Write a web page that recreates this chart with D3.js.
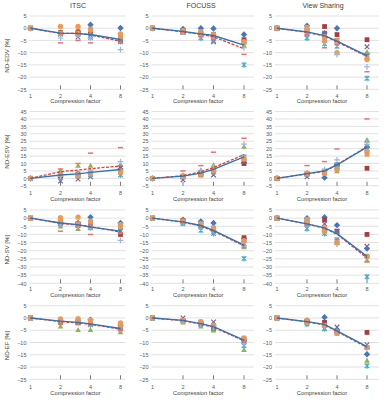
<!DOCTYPE html>
<html lang="en">
<head>
<meta charset="UTF-8">
<title>Compression factor panels</title>
<script src="https://cdn.jsdelivr.net/npm/d3@7"></script>
<style>
  body { margin: 0; background: #fff; }
  text { font-family: "Liberation Sans Narrow", "Liberation Sans", Arial, sans-serif; fill: #595959; }
</style>
</head>
<body>
<svg id="chart" width="386" height="400"></svg>
<script>
// ---- data ----
const factors = [1, 2, 3, 4, 8];
const xTicks = [1, 2, 4, 8];
const methods = ["ITSC", "FOCUSS", "View Sharing"];
const metrics = ["ND-EDV [%]", "ND-ESV [%]", "ND-SV [%]", "ND-EF [%]"];
const yDomains = [[-25, 5], [-5, 45], [-40, 5], [-25, 5]];
const seriesNames = ["S1", "S2", "S3", "S4", "S5", "S6", "S7", "S8", "S9"];

// one row per series, values at factors 1,2,3,4,8
const edvITSC = [
  [0, -1.8, -1.5, 1.4, 0.1], [0, -1.8, -1.5, -1.0, -4.7], [0, -2.3, -1.9, -2.3, -5.0],
  [0, -2.0, -3.6, -3.0, -4.5], [0, -2.5, -2.5, -3.8, -5.5], [0, 0.7, 0.7, -0.7, -2.3],
  [0, -4.0, -2.8, -4.0, -8.8], [0, -6.0, -5.0, -6.0, -6.0], [0, -2.0, -2.0, -0.3, -3.5]
];
const edvFOCUSS = [
  [0, -0.3, 0, -0.1, -2.6], [0, -1.2, -2.0, -2.5, -4.7], [0, -1.5, -1.5, -3.0, -7.0],
  [0, -1.8, -2.5, -5.5, -5.5], [0, -1.5, -4.0, -5.0, -15.0], [0, -1.0, -1.5, -2.5, -5.5],
  [0, -1.5, -3.0, -3.5, -8.0], [0, -2.0, -3.5, -4.5, -10.7], [0, -1.5, -1.6, -2.8, -6.0]
];
const edvVS = [
  [0, 1.0, -2.0, 0.0, -10.5], [0, -0.8, 0.7, -2.6, -4.7], [0, -0.7, -3.4, -4.7, -9.7],
  [0, -2.3, -2.0, -5.0, -7.6], [0, -4.0, -6.4, -7.4, -20.5], [0, -1.0, -3.5, -10.0, -12.8],
  [0, -1.5, -5.5, -10.8, -15.8], [0, -2.5, -8.0, -6.5, -17.8], [0, 0.4, -5.0, -5.0, -12.0]
];
const esvITSC = [
  [0, 1.0, 3.0, 4.0, 6.3], [0, 2.0, 2.9, 3.0, 4.5], [0, 5.2, 8.6, 8.6, 9.5],
  [0, -1.8, -0.5, 1.0, 7.0], [0, 0.5, 1.5, 2.5, 2.3], [0, 2.5, 2.0, 3.0, 5.0],
  [0, 1.5, 3.5, 5.5, 11.3], [0, 6.3, 10.0, 17.0, 20.7], [0, 2.9, 1.6, 3.4, 4.0]
];
const esvFOCUSS = [
  [0, 1.5, 3.0, 5.0, 10.5], [0, 1.0, 2.3, 4.5, 10.0], [0, 2.0, 5.6, 9.0, 21.4],
  [0, -1.0, 4.0, 2.3, 11.0], [0, 1.0, 3.0, 4.5, 14.5], [0, 1.5, 3.0, 6.0, 13.0],
  [0, 2.0, 5.0, 7.5, 23.0], [0, 5.0, 8.6, 17.6, 27.0], [0, 1.6, 2.7, 5.0, 14.0]
];
const esvVS = [
  [0, 2.5, 0.5, 9.0, 21.0], [0, 3.0, 4.5, 9.0, 6.8], [0, 4.0, 5.4, 5.0, 26.0],
  [0, 1.0, 4.0, 8.0, 20.0], [0, 3.0, 5.0, 9.0, 21.5], [0, 3.5, 4.5, 6.0, 18.0],
  [0, 3.5, 6.0, 12.4, 24.0], [0, 8.6, 11.3, 19.8, 40.0], [0, 3.0, 3.4, 6.3, 16.2]
];
const svITSC = [
  [0, -2.5, -3.0, 0.6, -3.0], [0, -2.8, -3.5, -3.5, -10.0], [0, -5.0, -6.5, -6.0, -8.5],
  [0, -3.0, -4.5, -4.5, -8.0], [0, -3.5, -4.0, -5.5, -7.5], [0, 0.2, 0.6, -1.8, -4.0],
  [0, -3.5, -5.0, -6.0, -13.6], [0, -8.0, -5.0, -10.0, -9.0], [0, -2.0, -3.5, -2.5, -5.0]
];
const svFOCUSS = [
  [0, -1.0, -2.0, -3.0, -12.5], [0, -1.5, -4.5, -7.0, -12.0], [0, -3.5, -5.0, -8.5, -17.7],
  [0, -2.0, -3.5, -6.5, -15.6], [0, -2.5, -7.5, -9.5, -24.8], [0, -1.8, -3.5, -6.0, -14.0],
  [0, -2.5, -5.0, -7.5, -17.0], [0, -3.0, -5.5, -8.0, -18.0], [0, -1.8, -3.5, -6.0, -14.0]
];
const svVS = [
  [0, 0.0, 0.6, -4.3, -18.7], [0, -2.0, -1.0, -8.0, -10.0], [0, -3.0, -7.0, -8.5, -25.8],
  [0, -3.5, -3.5, -8.0, -17.3], [0, -6.5, -9.5, -13.2, -36.0], [0, -3.0, -6.0, -15.2, -23.4],
  [0, -4.0, -8.0, -16.0, -24.0], [0, -4.5, -9.0, -13.0, -26.8], [0, -0.8, -8.0, -15.0, -23.5]
];
const efITSC = [
  [0, -1.2, -1.5, -0.7, -3.1], [0, -1.8, -2.0, -2.3, -4.1], [0, -3.4, -4.8, -4.8, -5.7],
  [0, -1.5, -1.8, -2.5, -3.6], [0, -1.3, -1.5, -2.8, -4.5], [0, -0.4, -0.3, -1.0, -2.0],
  [0, -1.0, -1.5, -2.5, -4.5], [0, -2.3, -2.5, -3.0, -5.0], [0, -0.8, -1.0, -1.5, -3.0]
];
const efFOCUSS = [
  [0, -0.8, -2.0, -3.0, -9.0], [0, -1.0, -2.0, -4.5, -9.0], [0, -1.8, -3.4, -5.0, -13.0],
  [0, 0.0, -2.5, -1.6, -9.5], [0, -1.2, -2.5, -4.0, -11.3], [0, -1.0, -1.6, -3.1, -8.2],
  [0, -1.3, -2.5, -3.5, -10.5], [0, -1.0, -2.2, -3.8, -9.5], [0, -1.0, -1.6, -3.1, -8.2]
];
const efVS = [
  [0, -1.0, 0.3, -5.0, -14.8], [0, -1.5, -1.8, -5.5, -5.9], [0, -2.0, -4.4, -4.8, -17.3],
  [0, -1.5, -3.0, -3.7, -10.9], [0, -2.5, -4.4, -5.5, -19.5], [0, -1.5, -3.1, -6.3, -11.9],
  [0, -1.8, -3.5, -6.0, -12.5], [0, -1.5, -3.0, -6.0, -12.5], [0, -1.0, -3.1, -6.3, -12.0]
];

// solid (blue) and dashed (red) trend lines, one row per method
const solidEDV = [[0, -2.0, -2.2, -2.6, -4.6], [0, -1.3, -2.3, -3.0, -6.9], [0, -1.5, -3.0, -5.3, -11.2]];
const dashedEDV = [[0, -2.2, -2.0, -2.8, -5.3], [0, -1.5, -2.5, -3.5, -8.4], [0, -1.7, -3.2, -5.6, -11.5]];
const solidESV = [[0, 2.3, 3.0, 4.0, 6.0], [0, 1.5, 3.5, 6.0, 14.5], [0, 3.2, 5.0, 9.0, 21.0]];
const dashedESV = [[0, 4.5, 5.6, 6.5, 8.3], [0, 1.8, 4.5, 7.2, 16.0], [0, 3.0, 4.8, 9.2, 21.3]];
const solidSV = [[0, -3.0, -4.0, -5.5, -8.0], [0, -2.3, -4.5, -7.5, -16.5], [0, -3.5, -6.0, -9.5, -23.5]];
const dashedSV = [[0, -3.2, -4.2, -5.2, -8.5], [0, -2.5, -4.8, -8.0, -17.0], [0, -3.5, -6.2, -9.8, -24.5]];
const solidEF = [[0, -1.3, -1.8, -2.4, -4.3], [0, -1.0, -2.3, -3.5, -9.0], [0, -1.5, -2.6, -5.3, -11.7]];
const dashedEF = [[0, -1.5, -2.0, -2.6, -4.6], [0, -1.1, -2.5, -3.8, -9.3], [0, -1.6, -2.8, -5.5, -12.0]];

const panelPoints = [
  [edvITSC, edvFOCUSS, edvVS], [esvITSC, esvFOCUSS, esvVS],
  [svITSC, svFOCUSS, svVS], [efITSC, efFOCUSS, efVS]
];
const panelSolid = [solidEDV, solidESV, solidSV, solidEF];
const panelDashed = [dashedEDV, dashedESV, dashedSV, dashedEF];

// ---- styles & layout ----
const markerShapes = ["diamond", "square", "triangle", "x", "star", "circle", "plus", "dash", "square"];
const markerColors = ["#4676C0", "#A83E3B", "#8DB356", "#7D62A0", "#4BACC6", "#F39A4C", "#9EB6DC", "#E57373", "#DE9A66"];

const cols = [
  { left: 29.5, right: 125.5, x1: 30.5, x8: 120.5, title: 78 },
  { left: 151.5, right: 254, x1: 152.5, x8: 244, title: 201 },
  { left: 275, right: 379, x1: 277, x8: 367, title: 323 }
];
const rows = [
  { top: 16, bottom: 89.3, tickY: 96.5, titleY: 101 },
  { top: 111.5, bottom: 185.8, tickY: 193.3, titleY: 199.3 },
  { top: 210, bottom: 283.3, tickY: 289.5, titleY: 295 },
  { top: 305.7, bottom: 379.3, tickY: 387.7, titleY: 393.3 }
];

function markerPath(shape) {
  const r = 2.8;
  switch (shape) {
    case "diamond": return `M0,${-r - 0.4}L${r + 0.4},0L0,${r + 0.4}L${-r - 0.4},0Z`;
    case "square": return `M-2.4,-2.4H2.4V2.4H-2.4Z`;
    case "triangle": return `M0,${-r}L${r},${r * 0.8}L${-r},${r * 0.8}Z`;
    case "x": return `M-2.3,-2.3L2.3,2.3M-2.3,2.3L2.3,-2.3`;
    case "star": return `M-2.3,-2.3L2.3,2.3M-2.3,2.3L2.3,-2.3M0,-2.9V2.9`;
    case "plus": return `M-2.9,0H2.9M0,-2.9V2.9`;
    case "dash": return `M-2.6,0H2.6`;
    default: return "";
  }
}
const strokeShapes = ["x", "star", "plus", "dash"];

const svg = d3.select("#chart");
svg.append("rect").attr("width", 386).attr("height", 400).attr("fill", "#fff");

methods.forEach((m, c) => {
  svg.append("text")
    .attr("x", cols[c].title).attr("y", 6)
    .attr("text-anchor", "middle").attr("dominant-baseline", "middle")
    .style("font-size", "7px").style("fill", "#404040")
    .text(m);
});

metrics.forEach((metric, r) => {
  const row = rows[r];
  const y = d3.scaleLinear().domain(yDomains[r]).range([row.bottom, row.top]);
  const yTickVals = d3.range(yDomains[r][0], yDomains[r][1] + 0.1, 5);

  svg.append("text")
    .attr("transform", `translate(7,${(row.top + row.bottom) / 2 + 3}) rotate(-90)`)
    .attr("text-anchor", "middle").attr("dominant-baseline", "middle")
    .style("font-size", "6.2px").style("fill", "#404040")
    .text(metric);

  methods.forEach((m, c) => {
    const col = cols[c];
    const x = d3.scaleLog().base(2).domain([1, 8]).range([col.x1, col.x8]);
    const g = svg.append("g");

    // gridlines
    g.selectAll("line.grid").data(yTickVals).join("line")
      .attr("x1", col.left).attr("x2", col.right)
      .attr("y1", d => y(d)).attr("y2", d => y(d))
      .attr("stroke", "#D9D9D9").attr("stroke-width", 0.8);

    // y axis labels
    const yAxis = d3.axisLeft(y).tickValues(yTickVals).tickSize(0).tickPadding(3);
    const ya = g.append("g").attr("transform", `translate(${col.left},0)`).call(yAxis);
    ya.select(".domain").remove();
    ya.selectAll("text").style("font-size", "5.5px").style("fill", "#595959")
      .style("font-family", '"Liberation Sans Narrow", "Liberation Sans", Arial, sans-serif');

    // x tick marks and labels
    g.selectAll("line.xt").data(xTicks.filter(d => d > 1)).join("line")
      .attr("x1", d => x(d)).attr("x2", d => x(d))
      .attr("y1", row.bottom - 4).attr("y2", row.bottom)
      .attr("stroke", "#595959").attr("stroke-width", 0.8);
    g.selectAll("text.xl").data(xTicks).join("text")
      .attr("x", d => x(d)).attr("y", row.tickY)
      .attr("text-anchor", "middle").attr("dominant-baseline", "middle")
      .style("font-size", "5.5px")
      .text(d => d);
    g.append("text")
      .attr("x", (col.x1 + col.x8) / 2).attr("y", row.titleY)
      .attr("text-anchor", "middle").attr("dominant-baseline", "middle")
      .style("font-size", "5.8px").style("fill", "#404040")
      .text("Compression factor");

    // markers
    panelPoints[r][c].forEach((vals, s) => {
      const shape = markerShapes[s];
      const color = markerColors[s];
      const pts = vals.map((v, i) => ({ f: factors[i], v }));
      if (shape === "circle") {
        g.append("g").selectAll("circle").data(pts).join("circle")
          .attr("cx", d => x(d.f)).attr("cy", d => y(d.v)).attr("r", 2.7)
          .attr("fill", color);
      } else {
        const isStroke = strokeShapes.includes(shape);
        g.append("g").selectAll("path").data(pts).join("path")
          .attr("transform", d => `translate(${x(d.f)},${y(d.v)})`)
          .attr("d", markerPath(shape))
          .attr("fill", isStroke ? "none" : color)
          .attr("stroke", isStroke ? color : "none")
          .attr("stroke-width", shape === "dash" ? 1.5 : 1.2);
      }
    });

    // trend lines
    const line = d3.line().x((d, i) => x(factors[i])).y(d => y(d));
    g.append("path").datum(panelDashed[r][c])
      .attr("d", line).attr("fill", "none")
      .attr("stroke", "#E8392F").attr("stroke-width", 1.3).attr("stroke-dasharray", "3,1.5");
    g.append("path").datum(panelSolid[r][c])
      .attr("d", line).attr("fill", "none")
      .attr("stroke", "#2E75B6").attr("stroke-width", 1.4);
  });
});
</script>
</body>
</html>
